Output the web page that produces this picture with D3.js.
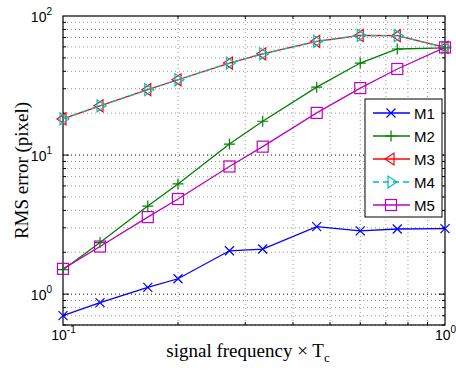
<!DOCTYPE html>
<html>
<head>
<meta charset="utf-8">
<script src="https://cdn.jsdelivr.net/npm/d3@7"></script>
<style>
  body { margin: 0; background: #fff; }
  svg { display: block; }
  .tick-label { font-family: "Liberation Sans", Arial, sans-serif; font-size: 14px; fill: #000; }
  .axis-label { font-family: "Liberation Serif", "Times New Roman", serif; font-size: 19px; fill: #000; }
  .legend-text { font-family: "Liberation Sans", Arial, sans-serif; font-size: 15px; fill: #000; }
</style>
</head>
<body>
<svg id="chart"></svg>
<script>
// signal frequency x Tc
const freq = [0.1, 0.125, 0.1667, 0.2, 0.2727, 0.3333, 0.4615, 0.6, 0.75, 1.0];

const m1 = [0.70, 0.87, 1.12, 1.29, 2.05, 2.11, 3.06, 2.85, 2.94, 2.96];
const m2 = [1.50, 2.35, 4.3, 6.2, 12.0, 17.5, 30.8, 45.9, 57.9, 58.9];
const m3 = [18.2, 22.6, 29.5, 34.8, 45.9, 53.5, 65.7, 72.5, 72.2, 59.5];
const m4 = [18.2, 22.6, 29.5, 34.8, 45.9, 53.5, 65.7, 72.5, 72.2, 59.5];
const m5 = [1.52, 2.2, 3.58, 4.83, 8.28, 11.5, 20.1, 30.3, 41.6, 59.5];

const seriesNames = ["M1", "M2", "M3", "M4", "M5"];
const xTicks = [0.1, 1];
const yTicks = [1, 10, 100];

const series = [
  {name: seriesNames[0], values: m1, color: "#0000ff", marker: "x", dash: null},
  {name: seriesNames[1], values: m2, color: "#008000", marker: "plus", dash: null},
  {name: seriesNames[2], values: m3, color: "#ff0000", marker: "triLeft", dash: null},
  {name: seriesNames[3], values: m4, color: "#00bfbf", marker: "triRight", dash: "6,4"},
  {name: seriesNames[4], values: m5, color: "#bf00bf", marker: "square", dash: null}
];

const width = 456, height = 372;
const margin = {top: 16, right: 11, bottom: 47, left: 63};

const svg = d3.select("#chart").attr("width", width).attr("height", height);

const x = d3.scaleLog().domain([0.1, 1]).range([margin.left, width - margin.right]);
const y = d3.scaleLog().domain([0.6, 100]).range([height - margin.bottom, margin.top]);

const x0 = margin.left, x1 = width - margin.right;
const y0 = height - margin.bottom, y1 = margin.top;

// grid lines
const xMinor = d3.range(2, 10).map(d => d / 10);
const yMinor = [0.6, 0.7, 0.8, 0.9].concat(d3.range(2, 10), d3.range(20, 100, 10));

const grid = svg.append("g");
grid.selectAll(".gx").data(xMinor).enter().append("line")
  .attr("x1", d => x(d)).attr("x2", d => x(d)).attr("y1", y0).attr("y2", y1)
  .attr("stroke", "#999").attr("stroke-width", 1).attr("stroke-dasharray", "1,3");
grid.selectAll(".gy").data(yMinor).enter().append("line")
  .attr("y1", d => y(d)).attr("y2", d => y(d)).attr("x1", x0).attr("x2", x1)
  .attr("stroke", "#999").attr("stroke-width", 1).attr("stroke-dasharray", "1,3");
grid.selectAll(".gym").data([1, 10]).enter().append("line")
  .attr("y1", d => y(d)).attr("y2", d => y(d)).attr("x1", x0).attr("x2", x1)
  .attr("stroke", "#000").attr("stroke-width", 1).attr("stroke-dasharray", "1,3");

// inside ticks on all sides
const ticks = svg.append("g").attr("stroke", "#000").attr("stroke-width", 1);
xMinor.forEach(d => {
  ticks.append("line").attr("x1", x(d)).attr("x2", x(d)).attr("y1", y0).attr("y2", y0 - 3);
  ticks.append("line").attr("x1", x(d)).attr("x2", x(d)).attr("y1", y1).attr("y2", y1 + 3);
});
yMinor.forEach(d => {
  ticks.append("line").attr("y1", y(d)).attr("y2", y(d)).attr("x1", x0).attr("x2", x0 + 3);
  ticks.append("line").attr("y1", y(d)).attr("y2", y(d)).attr("x1", x1).attr("x2", x1 - 3);
});
[1, 10].forEach(d => {
  ticks.append("line").attr("y1", y(d)).attr("y2", y(d)).attr("x1", x0).attr("x2", x0 + 6);
  ticks.append("line").attr("y1", y(d)).attr("y2", y(d)).attr("x1", x1).attr("x2", x1 - 6);
});

// axes (labels only, box drawn separately)
const xAxis = svg.append("g")
  .attr("transform", `translate(0,${y0})`)
  .call(d3.axisBottom(x).tickValues(xTicks).tickSize(0).tickFormat(""));
xAxis.select(".domain").remove();
xAxis.selectAll(".tick").each(function(d) {
  const t = d3.select(this).append("text").attr("class", "tick-label")
    .attr("y", 15).attr("text-anchor", "middle").attr("fill", "#000");
  t.append("tspan").text("10");
  t.append("tspan").attr("dy", -7).attr("font-size", 10).text(Math.round(Math.log10(d)));
});

const yAxis = svg.append("g")
  .attr("transform", `translate(${x0},0)`)
  .call(d3.axisLeft(y).tickValues(yTicks).tickSize(0).tickFormat(""));
yAxis.select(".domain").remove();
yAxis.selectAll(".tick").each(function(d) {
  const t = d3.select(this).append("text").attr("class", "tick-label")
    .attr("x", -11).attr("y", 5).attr("text-anchor", "end").attr("fill", "#000");
  t.append("tspan").text("10");
  t.append("tspan").attr("dy", -7).attr("font-size", 10).text(Math.round(Math.log10(d)));
});

// box
svg.append("rect")
  .attr("x", x0).attr("y", y1).attr("width", x1 - x0).attr("height", y0 - y1)
  .attr("fill", "none").attr("stroke", "#000").attr("stroke-width", 1.2);

// markers
function drawMarker(g, type, cx, cy, color) {
  const s = 4.5;
  if (type === "x") {
    g.append("path").attr("d", `M${cx-s},${cy-s}L${cx+s},${cy+s}M${cx-s},${cy+s}L${cx+s},${cy-s}`)
      .attr("stroke", color).attr("stroke-width", 1.2).attr("fill", "none");
  } else if (type === "plus") {
    g.append("path").attr("d", `M${cx-s-1},${cy}L${cx+s+1},${cy}M${cx},${cy-s-1}L${cx},${cy+s+1}`)
      .attr("stroke", color).attr("stroke-width", 1.2).attr("fill", "none");
  } else if (type === "triLeft") {
    const r = 6;
    g.append("path").attr("d", `M${cx-r},${cy}L${cx+r*0.5},${cy-r}L${cx+r*0.5},${cy+r}Z`)
      .attr("stroke", color).attr("stroke-width", 1.2).attr("fill", "none");
  } else if (type === "triRight") {
    const r = 6;
    g.append("path").attr("d", `M${cx+r},${cy}L${cx-r*0.5},${cy-r}L${cx-r*0.5},${cy+r}Z`)
      .attr("stroke", color).attr("stroke-width", 1.2).attr("fill", "none");
  } else if (type === "square") {
    g.append("rect").attr("x", cx - 5.5).attr("y", cy - 5.5).attr("width", 11).attr("height", 11)
      .attr("stroke", color).attr("stroke-width", 1.2).attr("fill", "none");
  }
}

const line = d3.line().x(d => x(d[0])).y(d => y(d[1]));

series.forEach(s => {
  const pts = freq.map((f, i) => [f, s.values[i]]);
  const g = svg.append("g");
  g.append("path").datum(pts).attr("d", line)
    .attr("fill", "none").attr("stroke", s.color).attr("stroke-width", 1.3)
    .attr("stroke-dasharray", s.dash);
  pts.forEach(p => drawMarker(g, s.marker, x(p[0]), y(p[1]), s.color));
});

// legend
const lg = svg.append("g");
const lx = 365, ly = 99, lw = 77, lh = 118;
lg.append("rect").attr("x", lx).attr("y", ly).attr("width", lw).attr("height", lh)
  .attr("fill", "#fff").attr("stroke", "#000").attr("stroke-width", 1);
series.forEach((s, i) => {
  const yy = ly + 14 + i * 23;
  lg.append("line").attr("x1", lx + 8).attr("x2", lx + 45).attr("y1", yy).attr("y2", yy)
    .attr("stroke", s.color).attr("stroke-width", 1.3).attr("stroke-dasharray", s.dash);
  drawMarker(lg, s.marker, lx + 26, yy, s.color);
  lg.append("text").attr("class", "legend-text").attr("x", lx + 49).attr("y", yy + 5.5).text(s.name);
});

// axis labels
const xl = svg.append("text").attr("class", "axis-label")
  .attr("x", 248).attr("y", 357).attr("text-anchor", "middle");
xl.append("tspan").text("signal frequency \u00d7 T");
xl.append("tspan").attr("dy", 5).attr("font-size", 13).text("c");

svg.append("text").attr("class", "axis-label")
  .attr("transform", `translate(28,${(y0 + y1) / 2}) rotate(-90)`)
  .attr("text-anchor", "middle").text("RMS error (pixel)");
</script>
</body>
</html>
